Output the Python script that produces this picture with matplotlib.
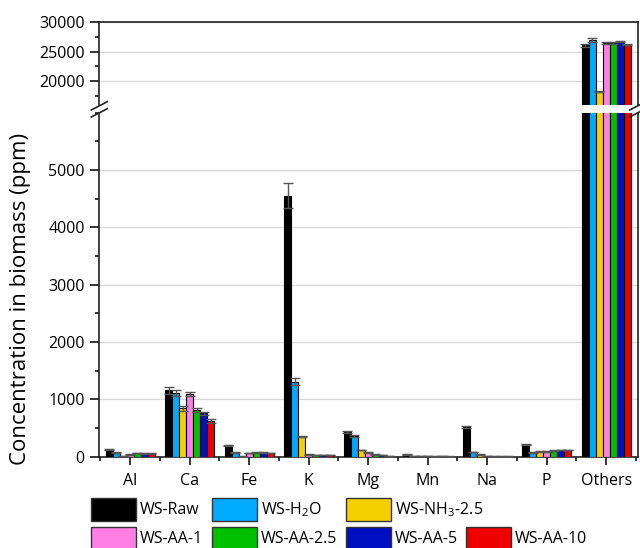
import numpy as np
import matplotlib
matplotlib.use("Agg")
import matplotlib.pyplot as plt
from matplotlib.lines import Line2D
from matplotlib.patches import Rectangle
from matplotlib.ticker import MultipleLocator

plt.rcParams["font.family"] = ["Open Sans", "DejaVu Sans"]
plt.rcParams["mathtext.fontset"] = "custom"
plt.rcParams["mathtext.rm"] = "Open Sans"
plt.rcParams["mathtext.it"] = "Open Sans"

# ---- data (ppm) ----
categories = ["Al", "Ca", "Fe", "K", "Mg", "Mn", "Na", "P", "Others"]
series_labels = ["WS-Raw", "WS-H$_2$O", "WS-NH$_3$-2.5", "WS-AA-1",
                 "WS-AA-2.5", "WS-AA-5", "WS-AA-10"]

ws_raw = [128, 1157, 203, 4555, 430, 40, 523, 209, 26050]
ws_h2o = [70, 1110, 75, 1309, 360, 10, 81, 76, 27000]
ws_nh3 = [10, 843, 5, 349, 116, 15, 40, 93, 18250]
ws_aa1 = [40, 1093, 64, 40, 76, 5, 5, 93, 26450]
ws_aa25 = [64, 814, 75, 28, 41, 3, 4, 105, 26450]
ws_aa5 = [52, 756, 75, 28, 29, 5, 4, 116, 26720]
ws_aa10 = [52, 622, 64, 28, 17, 3, 4, 116, 26150]

err_raw = [10, 65, 8, 215, 20, 3, 17, 5, 300]
err_h2o = [5, 50, 4, 60, 15, 2, 5, 4, 300]
err_nh3 = [2, 40, 2, 10, 5, 1, 3, 4, 100]
err_aa1 = [4, 40, 4, 3, 5, 1, 1, 4, 100]
err_aa25 = [4, 30, 4, 3, 3, 1, 1, 4, 100]
err_aa5 = [4, 30, 4, 3, 3, 1, 1, 4, 100]
err_aa10 = [4, 35, 4, 3, 2, 1, 1, 4, 100]

values = [ws_raw, ws_h2o, ws_nh3, ws_aa1, ws_aa25, ws_aa5, ws_aa10]
errors = [err_raw, err_h2o, err_nh3, err_aa1, err_aa25, err_aa5, err_aa10]
colors = ["#000000", "#00AAFF", "#F5D000", "#FF7FE6", "#00C000", "#0010C0", "#EE0000"]

# ---- figure layout ----
W, H = 640, 548
fig = plt.figure(figsize=(W / 100, H / 100), dpi=100)

def fx(px):
    return px / W

def fy(py):
    return 1 - py / H

left, right = 99.3, 637.7
ax_lo = fig.add_axes([fx(left), fy(456.7), fx(right - left), fy(112.7) - fy(456.7)])
ax_hi = fig.add_axes([fx(left), fy(105), fx(right - left), fy(22) - fy(105)])

x = np.arange(len(categories))
n = len(values)
w = 0.117

for ax in (ax_lo, ax_hi):
    for i, (vals, errs, c) in enumerate(zip(values, errors, colors)):
        ax.bar(x + (i - (n - 1) / 2) * w, vals, width=w, color=c,
               edgecolor="black", linewidth=0.8, zorder=3,
               yerr=errs, capsize=3.5,
               error_kw=dict(ecolor="#555555", elinewidth=1, capthick=1, zorder=4))
    ax.set_xlim(-0.52, len(categories) - 0.47)
    ax.grid(axis="y", color="#d9d9d9", linewidth=1, zorder=0)
    ax.set_axisbelow(True)
    for s in ax.spines.values():
        s.set_linewidth(1.2)
        s.set_color("#222222")

ax_lo.set_ylim(0, 6000)
ax_lo.yaxis.set_minor_locator(MultipleLocator(500))
ax_lo.set_yticks([0, 1000, 2000, 3000, 4000, 5000])
ax_lo.spines["top"].set_visible(False)
ax_lo.set_xticks(x)
ax_lo.set_xticklabels(categories)
ax_lo.set_xticks(np.r_[x - 0.5, x[-1] + 0.5], minor=True)

ax_hi.set_ylim(16000, 30000)
ax_hi.set_yticks([20000, 25000, 30000])
ax_hi.yaxis.set_minor_locator(MultipleLocator(2500))
ax_hi.spines["bottom"].set_visible(False)
ax_hi.set_xticks([])
ax_hi.set_xticks([], minor=True)

for ax in (ax_lo, ax_hi):
    ax.tick_params(axis="y", which="major", direction="out", length=6.5, width=1.1,
                   labelsize=11.5, pad=4)
    ax.tick_params(axis="y", which="minor", direction="out", length=3, width=1.1)
ax_lo.tick_params(axis="x", which="major", direction="out", length=6, width=1.1,
                  labelsize=11.5, pad=6)
ax_lo.tick_params(axis="x", which="minor", direction="out", length=3, width=1.1)

fig.text(fx(20.5), fy(299), "Concentration in biomass (ppm)", rotation=90,
         ha="center", va="center", fontsize=16)

# ---- axis break marks ----
for cx in (left, right):
    for dy in (0, 7):
        fig.add_artist(Line2D([fx(cx - 8), fx(cx + 8)], [fy(110 + dy), fy(101.7 + dy)],
                              color="#222222", linewidth=1.2))

# ---- legend ----
slots = [(90.7, 498.3), (211.7, 498.3), (345.7, 498.3),
         (90.7, 527.3), (211.7, 527.3), (345.7, 527.3), (465.7, 527.3)]
pw, ph = 45, 22.7
for (sx, sy), lab, c in zip(slots, series_labels, colors):
    fig.add_artist(Rectangle((fx(sx), fy(sy + ph)), fx(pw), fy(sy) - fy(sy + ph),
                             facecolor=c, edgecolor="#333333", linewidth=1,
                             transform=fig.transFigure))
    fig.text(fx(sx + pw + 4.5), fy(sy + ph / 2), lab, ha="left", va="center",
             fontsize=11.5)

fig.savefig("out.png", dpi=100)
